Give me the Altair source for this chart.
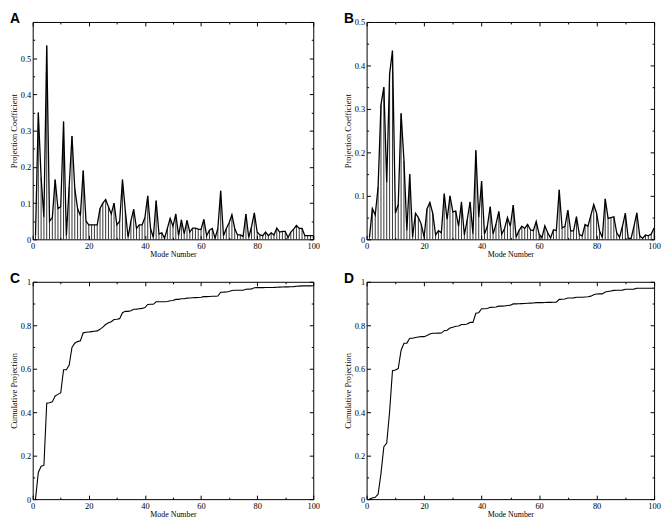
import altair as alt
import pandas as pd

# ---------------- data ----------------
modes = list(range(1, 101))

proj_a = [
    0.01, 0.35, 0.17, 0.06, 0.535, 0.05, 0.06, 0.165, 0.085, 0.09,
    0.325, 0.01, 0.145, 0.285, 0.14, 0.085, 0.065, 0.19, 0.05, 0.04,
    0.04, 0.04, 0.04, 0.085, 0.10, 0.11, 0.09, 0.07, 0.10, 0.04,
    0.05, 0.165, 0.08, 0.005, 0.05, 0.083, 0.03, 0.04, 0.04, 0.06,
    0.12, 0.03, 0.005, 0.107, 0.015, 0.018, 0.003, 0.03, 0.058, 0.036,
    0.07, 0.01, 0.054, 0.015, 0.052, 0.02, 0.031, 0.031, 0.028, 0.027,
    0.055, 0.01, 0.025, 0.03, 0.003, 0.03, 0.134, 0.01, 0.03, 0.045,
    0.068, 0.03, 0.012, 0.012, 0.008, 0.07, 0.005, 0.035, 0.073, 0.02,
    0.012, 0.01, 0.02, 0.01, 0.018, 0.012, 0.031, 0.02, 0.022, 0.022,
    0.005, 0.02, 0.028, 0.038, 0.03, 0.03, 0.01, 0.01, 0.01, 0.01,
]

proj_b = [
    0.005, 0.071, 0.056, 0.12, 0.31, 0.35, 0.13, 0.38, 0.434, 0.06,
    0.08, 0.29, 0.18, 0.02, 0.15, 0.005, 0.06, 0.05, 0.035, 0.005,
    0.07, 0.085, 0.06, 0.01, 0.02, 0.015, 0.105, 0.045, 0.10, 0.063,
    0.065, 0.03, 0.086, 0.01, 0.045, 0.086, 0.012, 0.205, 0.05, 0.134,
    0.012, 0.03, 0.075, 0.012, 0.035, 0.064, 0.012, 0.025, 0.05, 0.03,
    0.079, 0.005, 0.02, 0.03, 0.025, 0.034, 0.022, 0.02, 0.041, 0.012,
    0.004, 0.031, 0.015, 0.003, 0.022, 0.02, 0.114, 0.026, 0.03, 0.067,
    0.019, 0.02, 0.052, 0.011, 0.008, 0.034, 0.03, 0.055, 0.08, 0.06,
    0.02, 0.004, 0.093, 0.048, 0.05, 0.052, 0.015, 0.005, 0.03, 0.06,
    0.002, 0.002, 0.03, 0.061, 0.008, 0.002, 0.01, 0.008, 0.012, 0.026,
]

letters = ["A", "B", "C", "D"]

x_major = [0, 20, 40, 60, 80, 100]
x_minor = [10, 30, 50, 70, 90]
ya_labels = [0, 0.1, 0.2, 0.3, 0.4, 0.5]
ya_major = [0, 0.1, 0.2, 0.3, 0.4, 0.5, 0.6]
ya_minor = [0.05, 0.15, 0.25, 0.35, 0.45, 0.55]
yb_labels = [0, 0.1, 0.2, 0.3, 0.4, 0.5]
yb_minor = [0.05, 0.15, 0.25, 0.35, 0.45]
yc_labels = [0, 0.2, 0.4, 0.6, 0.8, 1]
yc_minor = [0.1, 0.3, 0.5, 0.7, 0.9]

x_title = "Mode Number"
coef_title = "Projection Coefficient"
cum_title = "Cumulative Projection"

SERIF = "Liberation Serif"
SANS = "Liberation Sans"

df_a = pd.DataFrame({"mode": modes, "coef": proj_a})
df_b = pd.DataFrame({"mode": modes, "coef": proj_b})


def tick_axis(values, orient, offset, size):
    return alt.Axis(values=values, orient=orient, offset=offset, labels=False,
                    domain=False, grid=False, ticks=True, tickSize=size,
                    tickColor="black", tickWidth=1, title=None)


def panel(df, cumulative, ydomain, ylabels, ymajor, yminor, ytitle, letter, w, h):
    xs = alt.Scale(domain=[0, 100], nice=False, zero=False)
    ys = alt.Scale(domain=ydomain, nice=False, zero=False)
    base = alt.Chart(df)
    yfield = "coef"
    if cumulative:
        base = base.transform_calculate(sq="datum.coef * datum.coef").transform_window(
            cum="sum(sq)", sort=[alt.SortField("mode", order="ascending")], frame=[None, 0])
        yfield = "cum"

    x_lab = alt.Axis(values=x_major, title=x_title, orient="bottom", ticks=False,
                     domain=False, grid=False, labelFlush=False, labelPadding=2,
                     labelFontSize=8.5, titleFontSize=8, titlePadding=1, format="d")
    y_lab = alt.Axis(values=ylabels, title=ytitle, orient="left", ticks=False,
                     domain=False, grid=False, labelFlush=False, labelPadding=2,
                     labelFontSize=8.5, titleFontSize=8.5, titlePadding=2, format="~g")

    def enc(xaxis, yaxis):
        return dict(x=alt.X("mode:Q", scale=xs, axis=xaxis),
                    y=alt.Y(f"{yfield}:Q", scale=ys, axis=yaxis))

    layers = []
    if not cumulative:
        layers.append(base.mark_rule(color="black", strokeWidth=0.8).encode(
            y2=alt.datum(0), **enc(x_lab, y_lab)))
        layers.append(base.mark_line(color="black", strokeWidth=1.3).encode(
            **enc(tick_axis(x_major, "top", -h, 4), tick_axis(ymajor, "right", -w, 4))))
    else:
        layers.append(base.mark_line(color="black", strokeWidth=1.1).encode(
            **enc(x_lab, y_lab)))
        layers.append(base.mark_line(strokeOpacity=0).encode(
            **enc(tick_axis(x_major, "top", -h, 4), tick_axis(ymajor, "right", -w, 4))))
    layers.append(base.mark_line(strokeOpacity=0).encode(
        **enc(tick_axis(x_major, "bottom", -h, 4), tick_axis(ymajor, "left", -w, 4))))
    layers.append(base.mark_line(strokeOpacity=0).encode(
        **enc(tick_axis(x_minor, "top", -h, 2), tick_axis(yminor, "right", -w, 2))))
    layers.append(base.mark_line(strokeOpacity=0).encode(
        **enc(tick_axis(x_minor, "bottom", -h, 2), tick_axis(yminor, "left", -w, 2))))
    layers.append(
        alt.Chart(pd.DataFrame({"letter": [letter]}))
        .mark_text(font=SANS, fontWeight="bold", fontSize=14, align="left",
                   baseline="alphabetic", color="black")
        .encode(text="letter:N", x=alt.value(-23), y=alt.value(1))
    )
    return (alt.layer(*layers)
            .resolve_axis(x="independent", y="independent")
            .properties(width=w, height=h))


W1, W2, H = 284, 291, 220
pa = panel(df_a, False, [0, 0.6], ya_labels, ya_major, ya_minor, coef_title, letters[0], W1, H)
pb = panel(df_b, False, [0, 0.5], yb_labels, yb_labels, yb_minor, coef_title, letters[1], W2, H)
pc = panel(df_a, True, [0, 1], yc_labels, yc_labels, yc_minor, cum_title, letters[2], W1, H)
pd_ = panel(df_b, True, [0, 1], yc_labels, yc_labels, yc_minor, cum_title, letters[3], W2, H)

chart = (
    alt.concat(pa, pb, pc, pd_, columns=2, spacing={"row": 43, "column": 54}, bounds="flush")
    .properties(padding=0, background="white")
    .configure_view(stroke="black", strokeWidth=1)
    .configure_axis(labelFont=SERIF, titleFont=SERIF, labelColor="black",
                    titleColor="black", titleFontWeight="normal")
)

chart.save("out.html", embed_options={"renderer": "svg", "actions": False})
